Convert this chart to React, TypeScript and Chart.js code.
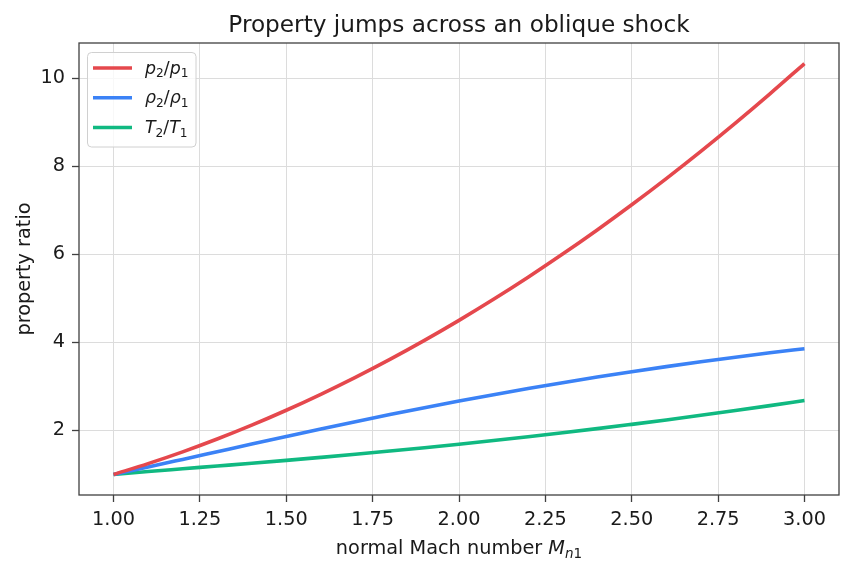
import React, { useEffect, useRef } from "react";
import { Chart, registerables } from "chart.js";

Chart.register(...registerables);

const machNumbers = [1.0, 1.1, 1.2, 1.3, 1.4, 1.5, 1.6, 1.7, 1.8, 1.9, 2.0, 2.1, 2.2, 2.3, 2.4, 2.5, 2.6, 2.7, 2.8, 2.9, 3.0];
const pressureRatio = [1.0, 1.245, 1.513, 1.805, 2.12, 2.458, 2.82, 3.205, 3.613, 4.045, 4.5, 4.978, 5.48, 6.005, 6.553, 7.125, 7.72, 8.338, 8.98, 9.645, 10.333];
const densityRatio = [1.0, 1.169, 1.342, 1.516, 1.69, 1.862, 2.032, 2.198, 2.359, 2.516, 2.667, 2.812, 2.951, 3.085, 3.212, 3.333, 3.449, 3.559, 3.664, 3.763, 3.857];
const temperatureRatio = [1.0, 1.065, 1.128, 1.191, 1.254, 1.32, 1.388, 1.458, 1.532, 1.608, 1.687, 1.77, 1.857, 1.947, 2.04, 2.138, 2.238, 2.343, 2.451, 2.563, 2.679];
const xTickValues = [1.0, 1.25, 1.5, 1.75, 2.0, 2.25, 2.5, 2.75, 3.0];
const yTickValues = [2, 4, 6, 8, 10];

const titleText = "Property jumps across an oblique shock";
const yTitleText = "property ratio";

type Seg = { t: string; it?: boolean; sub?: boolean };

const FONT = '"DejaVu Sans"';
const seriesColors = ["#e5484d", "#3b82f6", "#10b981"];
const legendLabels: Seg[][] = [
  [{ t: "p", it: true }, { t: "2", sub: true }, { t: "/" }, { t: "p", it: true }, { t: "1", sub: true }],
  [{ t: "ρ", it: true }, { t: "2", sub: true }, { t: "/" }, { t: "ρ", it: true }, { t: "1", sub: true }],
  [{ t: "T", it: true }, { t: "2", sub: true }, { t: "/" }, { t: "T", it: true }, { t: "1", sub: true }],
];
const xTitleSegs: Seg[] = [
  { t: "normal Mach number " },
  { t: "M", it: true },
  { t: "n", it: true, sub: true },
  { t: "1", sub: true },
];

function segFont(s: Seg, size: number) {
  const sz = s.sub ? size * 0.7 : size;
  return `${s.it ? "italic " : ""}${sz}px ${FONT}`;
}

function drawMath(ctx: CanvasRenderingContext2D, segs: Seg[], x: number, y: number, size: number, align: "left" | "center") {
  let total = 0;
  const widths = segs.map((s) => {
    ctx.font = segFont(s, size);
    const w = ctx.measureText(s.t).width;
    total += w;
    return w;
  });
  let cx = align === "center" ? x - total / 2 : x;
  ctx.textAlign = "left";
  ctx.textBaseline = "alphabetic";
  segs.forEach((s, i) => {
    ctx.font = segFont(s, size);
    ctx.fillText(s.t, cx, s.sub ? y + size * 0.22 : y);
    cx += widths[i];
  });
}

const decorPlugin = {
  id: "decor",
  afterDraw(chart: any) {
    const ctx: CanvasRenderingContext2D = chart.ctx;
    const a = chart.chartArea;
    ctx.save();
    // frame
    ctx.strokeStyle = "#404040";
    ctx.lineWidth = 1.3;
    ctx.strokeRect(a.left, a.top, a.right - a.left, a.bottom - a.top);
    // title
    ctx.fillStyle = "#1a1a1a";
    ctx.font = `23.2px ${FONT}`;
    ctx.textAlign = "center";
    ctx.textBaseline = "alphabetic";
    ctx.fillText(titleText, (a.left + a.right) / 2, 32);
    // x title
    drawMath(ctx, xTitleSegs, (a.left + a.right) / 2, 554, 19.3, "center");
    // y title
    ctx.save();
    ctx.translate(29.5, (a.top + a.bottom) / 2);
    ctx.rotate(-Math.PI / 2);
    ctx.font = `19.3px ${FONT}`;
    ctx.textAlign = "center";
    ctx.textBaseline = "alphabetic";
    ctx.fillText(yTitleText, 0, 0);
    ctx.restore();
    // legend
    const lx = 87.5, ly = 52.5, lw = 108.5, lh = 94.5, r = 4;
    ctx.beginPath();
    ctx.moveTo(lx + r, ly);
    ctx.arcTo(lx + lw, ly, lx + lw, ly + lh, r);
    ctx.arcTo(lx + lw, ly + lh, lx, ly + lh, r);
    ctx.arcTo(lx, ly + lh, lx, ly, r);
    ctx.arcTo(lx, ly, lx + lw, ly, r);
    ctx.closePath();
    ctx.fillStyle = "rgba(255,255,255,0.8)";
    ctx.fill();
    ctx.strokeStyle = "#d0d0d0";
    ctx.lineWidth = 1;
    ctx.stroke();
    const rows = [68, 97.8, 127.6];
    rows.forEach((ry, i) => {
      ctx.strokeStyle = seriesColors[i];
      ctx.lineWidth = 3.5;
      ctx.beginPath();
      ctx.moveTo(93, ry);
      ctx.lineTo(132, ry);
      ctx.stroke();
      ctx.fillStyle = "#1a1a1a";
      drawMath(ctx, legendLabels[i], 145, ry + 5.5, 17.4, "left");
    });
    ctx.restore();
  },
};

export default function App() {
  const ref = useRef<HTMLCanvasElement | null>(null);
  useEffect(() => {
    if (!ref.current) return;
    const mk = (data: number[]) => machNumbers.map((x, i) => ({ x, y: data[i] }));
    const names = ["p2/p1", "rho2/rho1", "T2/T1"];
    const series = [pressureRatio, densityRatio, temperatureRatio];
    const chart = new Chart(ref.current, {
      type: "line",
      data: {
        datasets: series.map((d, i) => ({
          label: names[i],
          data: mk(d),
          borderColor: seriesColors[i],
          backgroundColor: seriesColors[i],
          borderWidth: 3.6,
          pointRadius: 0,
          cubicInterpolationMode: "monotone" as const,
          fill: false,
        })),
      },
      options: {
        animation: false,
        responsive: false,
        events: [],
        layout: { padding: { top: 43, right: 13, left: 0, bottom: 0 } },
        plugins: { legend: { display: false }, title: { display: false }, tooltip: { enabled: false } },
        scales: {
          x: {
            type: "linear",
            min: 0.9,
            max: 3.1,
            afterBuildTicks: (s: any) => {
              s.ticks = xTickValues.map((v) => ({ value: v }));
            },
            afterFit: (s: any) => {
              s.height = 78;
            },
            grid: { color: "#dcdcdc", lineWidth: 1, drawTicks: true, tickLength: 7, tickColor: "#404040", tickWidth: 1.3 },
            border: { display: false },
            ticks: {
              padding: 6,
              color: "#1a1a1a",
              font: { family: "DejaVu Sans", size: 19.3 },
              maxRotation: 0,
              autoSkip: false,
              callback: (v: any) => Number(v).toFixed(2),
            },
          },
          y: {
            type: "linear",
            min: 0.533,
            max: 10.8,
            afterBuildTicks: (s: any) => {
              s.ticks = yTickValues.map((v) => ({ value: v }));
            },
            afterFit: (s: any) => {
              s.width = 79;
            },
            grid: { color: "#dcdcdc", lineWidth: 1, drawTicks: true, tickLength: 7, tickColor: "#404040", tickWidth: 1.3 },
            border: { display: false },
            ticks: {
              padding: 7,
              color: "#1a1a1a",
              font: { family: "DejaVu Sans", size: 19.3 },
              autoSkip: false,
              callback: (v: any) => String(v),
            },
          },
        },
      },
      plugins: [decorPlugin],
    });
    return () => chart.destroy();
  }, []);
  return (
    <div style={{ position: "fixed", left: 0, top: 0, width: 852, height: 573, background: "#fff" }}>
      <canvas ref={ref} width={852} height={573} style={{ display: "block" }} />
    </div>
  );
}
